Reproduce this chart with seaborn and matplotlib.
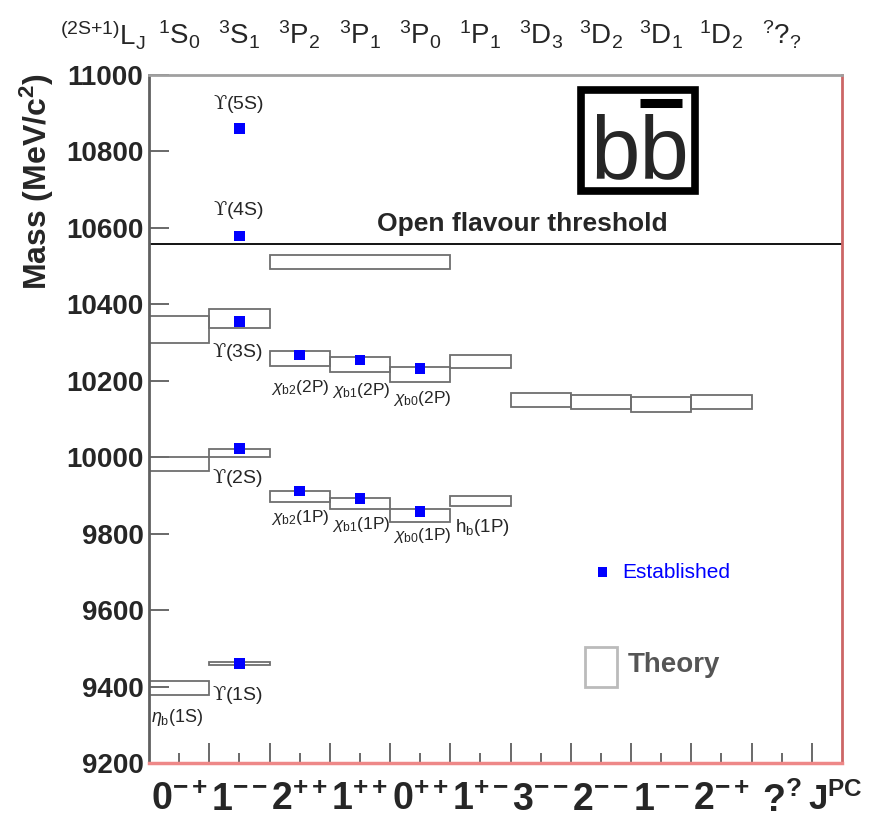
import numpy as np
import pandas as pd
import seaborn as sns
import matplotlib.pyplot as plt
from matplotlib.patches import Rectangle

# data
jpc_labels = ["0^{-+}", "1^{--}", "2^{++}", "1^{++}", "0^{++}", "1^{+-}",
              "3^{--}", "2^{--}", "1^{--}", "2^{-+}", "?^{?}"]
term_labels = ["{}^{1}S_{0}", "{}^{3}S_{1}", "{}^{3}P_{2}", "{}^{3}P_{1}", "{}^{3}P_{0}",
               "{}^{1}P_{1}", "{}^{3}D_{3}", "{}^{3}D_{2}", "{}^{3}D_{1}", "{}^{1}D_{2}",
               "{}^{?}?_{?}"]

# theory boxes: column, low, high, width (in columns)
theory_col = [0, 0, 0, 1, 1, 1, 2, 2, 3, 3, 4, 4, 5, 5, 6, 7, 8, 9, 2]
theory_lo = [9378, 9963, 10298, 9456, 10001, 10337, 9882, 10238, 9864, 10222,
             9830, 10196, 9872, 10233, 10132, 10126, 10118, 10126, 10492]
theory_hi = [9414, 10000, 10369, 9464, 10021, 10387, 9911, 10277, 9893, 10261,
             9864, 10235, 9898, 10267, 10168, 10163, 10158, 10163, 10528]
theory_w = [1] * 18 + [3]

# established states
est_col = [1, 1, 1, 1, 1, 2, 3, 4, 2, 3, 4]
est_mass = [9460, 10023, 10355, 10579, 10860, 9912, 9892, 9858, 10268, 10255, 10232]

# state names and where they sit
ups = r"$\mathsf{ϒ}$"
name_text = [ups + "(5S)", ups + "(4S)", ups + "(3S)", ups + "(2S)", ups + "(1S)",
             r"$\eta_{\mathrm{b}}$(1S)",
             r"$\chi_{\mathrm{b2}}$(2P)", r"$\chi_{\mathrm{b1}}$(2P)", r"$\chi_{\mathrm{b0}}$(2P)",
             r"$\chi_{\mathrm{b2}}$(1P)", r"$\chi_{\mathrm{b1}}$(1P)", r"$\chi_{\mathrm{b0}}$(1P)",
             r"h$_{\mathrm{b}}$(1P)"]
name_x = [1.06, 1.06, 1.05, 1.05, 1.05, 0.03, 2.02, 3.04, 4.05, 2.02, 3.04, 4.05, 5.08]
name_m = [10925, 10646, 10275, 9945, 9378, 9318, 10183, 10175, 10154, 9843, 9825, 9796, 9817]
name_size = [14, 14, 14, 14, 14, 13, 12.5, 12.5, 12.5, 12.5, 12.5, 12.5, 13.5]

threshold = 10558
y_ticks = [9200, 9400, 9600, 9800, 10000, 10200, 10400, 10600, 10800, 11000]

sns.set_style("ticks")
plt.rcParams['font.family'] = ['Liberation Sans', 'DejaVu Sans']
plt.rcParams['mathtext.fontset'] = 'custom'
plt.rcParams['mathtext.rm'] = 'Liberation Sans'
plt.rcParams['mathtext.it'] = 'Liberation Sans:italic'
plt.rcParams['mathtext.bf'] = 'Liberation Sans:bold'
plt.rcParams['mathtext.sf'] = 'DejaVu Serif'

fig = plt.figure(figsize=(8.83, 8.19), dpi=100)
ax = fig.add_axes([0.16874, 0.06838, 0.78482, 0.84005])

# theory boxes
ax.bar(theory_col, np.array(theory_hi) - np.array(theory_lo), bottom=theory_lo,
       width=theory_w, align='edge', fill=False, edgecolor='#6e6e6e', linewidth=1.3)

# established points
est = pd.DataFrame({"x": np.array(est_col) + 0.5, "m": est_mass})
sns.scatterplot(data=est, x="x", y="m", marker='s', s=55, color='#0000ff',
                edgecolor='none', ax=ax, zorder=5)

ax.axhline(threshold, color='black', lw=1.3)
ax.text(6.2, 10609, "Open flavour threshold", fontsize=19, fontweight='bold',
        ha='center', va='center')

for t, x, m, fs in zip(name_text, name_x, name_m, name_size):
    ax.text(x, m, t, fontsize=fs, ha='left', va='center')

ax.set_xlim(0, 11.5)
ax.set_ylim(9200, 11000)
ax.set_xlabel("")
ax.set_ylabel("")

ax.set_yticks(y_ticks, labels=[str(v) for v in y_ticks], fontsize=20, fontweight='bold')
ax.set_xticks(range(1, 12), labels=[])
ax.set_xticks(np.arange(11) + 0.5, labels=[r"$\mathbf{" + s + "}$" for s in jpc_labels],
              minor=True, fontsize=27)
ax.tick_params(axis='y', direction='in', length=14.4, width=1.2, color='#505050', pad=4)
ax.tick_params(axis='x', which='major', direction='in', length=14.4, width=1.2,
               color='#505050')
ax.tick_params(axis='x', which='minor', direction='in', length=7.2, width=1.2,
               color='#505050', pad=14)

ax.spines['left'].set_color('#606060')
ax.spines['left'].set_linewidth(2)
ax.spines['top'].set_color('#a0a0a0')
ax.spines['top'].set_linewidth(2)
ax.spines['right'].set_color('#cc6666')
ax.spines['right'].set_linewidth(2)
ax.spines['bottom'].set_color('#ee8888')
ax.spines['bottom'].set_linewidth(2.5)

# top spectroscopic labels
xt = ax.get_xaxis_transform()
for i, s in enumerate(term_labels):
    ax.text(i + 0.5, 1.0436, "$\\mathrm{" + s + "}$", transform=xt, fontsize=20,
            ha='center', va='baseline')
ax.text(-0.05, 1.0436, r"$\mathrm{{}^{(2S{+}1)}L_{J}}$", transform=xt, fontsize=20,
        ha='right', va='baseline')
ax.text(0.99, -0.068, r"$\mathbf{J^{PC}}$", transform=ax.transAxes, fontsize=25,
        ha='center', va='baseline')

ax.text(-0.1616, 1.003, r"Mass (MeV/c$^{\mathbf{2}}$)", transform=ax.transAxes,
        fontsize=23, fontweight='bold', rotation=90, rotation_mode='anchor',
        ha='right', va='center')

# b bbar logo
ax.add_patch(Rectangle((0.6241, 0.8321), 0.1645, 0.1454, transform=ax.transAxes,
                       fill=False, edgecolor='black', linewidth=5.5, zorder=6))
ax.text(0.7085, 0.850, "bb", transform=ax.transAxes, fontsize=64,
        ha='center', va='baseline', zorder=7)
ax.plot([0.7085, 0.769], [0.9586, 0.9586], transform=ax.transAxes, color='black',
        lw=6.5, solid_capstyle='butt', zorder=7)

# legend
ax.scatter([0.654], [0.2776], transform=ax.transAxes, marker='s', s=45,
           color='#0000ff', edgecolor='none', clip_on=False)
ax.text(0.6825, 0.2776, "Established", transform=ax.transAxes, fontsize=15,
        color='#0000ff', ha='left', va='center')
ax.add_patch(Rectangle((0.629, 0.110), 0.046, 0.059, transform=ax.transAxes,
                       fill=False, edgecolor='#bbbbbb', linewidth=2))
ax.text(0.691, 0.1424, "Theory", transform=ax.transAxes, fontsize=20,
        fontweight='bold', color='#555555', ha='left', va='center')

fig.savefig("out.png", dpi=100)
